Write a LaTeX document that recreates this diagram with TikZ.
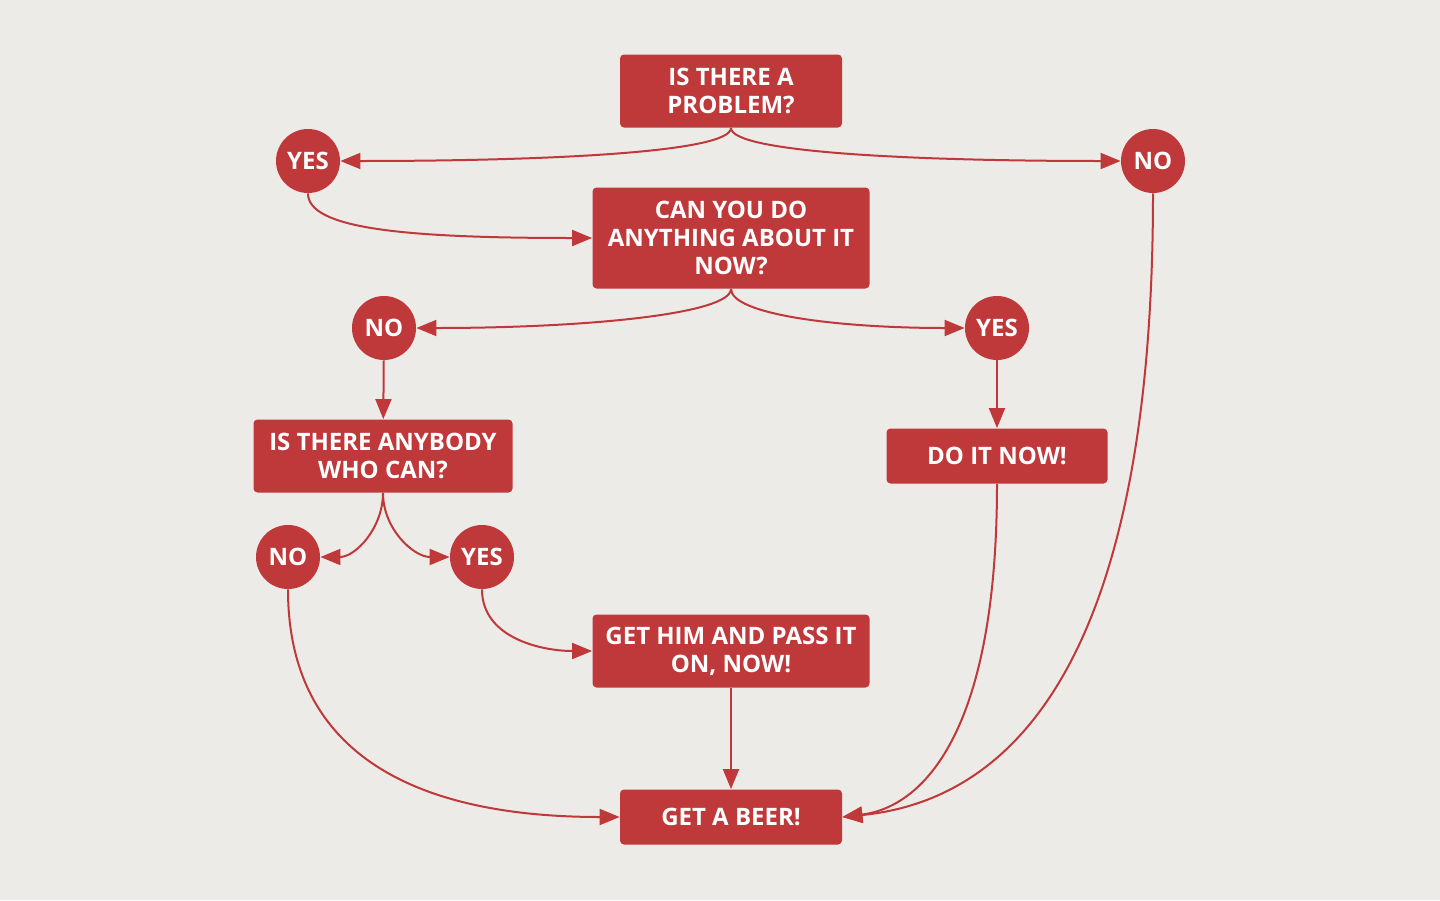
\documentclass[tikz,border=0pt]{standalone}
\usepackage{fontspec}
\setmainfont{Open Sans}
\usetikzlibrary{arrows.meta,positioning}
\definecolor{beerred}{HTML}{BF383A}
\definecolor{paper}{HTML}{EDEBE8}

\begin{document}
\begin{tikzpicture}[x=0.5pt,y=-0.5pt,
  box/.style={fill=beerred, rounded corners=2pt, text=white, align=center, inner sep=0pt,
    font=\bfseries\fontsize{12}{14}\selectfont},
  ans/.style={circle, fill=beerred, text=white, minimum size=32pt, inner sep=0pt,
    font=\bfseries\fontsize{12}{14}\selectfont},
  arr/.style={draw=beerred, line width=1pt, -{Triangle[length=10pt,width=8pt]}}]
\fill[paper] (0,0) rectangle (1440,900);
\useasboundingbox (0,0) rectangle (1440,900);

% questions and actions
\node[box, minimum width=111pt, minimum height=36.5pt] (q1) at (731,91) {IS THERE A\\PROBLEM?};
\node[box, minimum width=138.5pt, minimum height=50.5pt] (q2) at (731,238) {CAN YOU DO\\ANYTHING ABOUT IT\\NOW?};
\node[box, minimum width=129.5pt, minimum height=36.5pt] (q3) at (383,456) {IS THERE ANYBODY\\WHO CAN?};
\node[box, minimum width=110.5pt, minimum height=27.5pt] (now) at (997,456) {DO IT NOW!};
\node[box, minimum width=138.5pt, minimum height=36.5pt] (pass) at (731,651) {GET HIM AND PASS IT\\ON, NOW!};
\node[box, minimum width=111pt, minimum height=27.5pt] (beer) at (731,817) {GET A BEER!};

% answers
\node[ans] (yes1) at (308,161) {YES};
\node[ans] (no1) at (1153,161) {NO};
\node[ans] (no2) at (384,328) {NO};
\node[ans] (yes2) at (997,328) {YES};
\node[ans] (no3) at (288,557) {NO};
\node[ans] (yes3) at (482,557) {YES};

% connectors
\draw[arr] (q1.south) .. controls +(0,25) and +(200,0) .. (yes1.east);
\draw[arr] (q1.south) .. controls +(0,25) and +(-200,0) .. (no1.west);
\draw[arr] (yes1.south) .. controls +(0,35) and +(-190,0) .. (q2.west);
\draw[arr] (q2.south) .. controls +(0,25) and +(170,0) .. (no2.east);
\draw[arr] (q2.south) .. controls +(0,25) and +(-130,0) .. (yes2.west);
\draw[arr] (no2) -- (q3);
\draw[arr] (yes2) -- (now);
\draw[arr] (q3.south) to[out=-90, in=0] (no3.east);
\draw[arr] (q3.south) to[out=-90, in=180] (yes3.west);
\draw[arr] (yes3.south) to[out=-90, in=180] (pass.west);
\draw[arr] (pass) -- (beer);
\draw[arr] (no3.south) .. controls +(0,180) and +(-180,0) .. (beer.west);
\draw[arr] (now.south) .. controls +(0,250) and +(80,-10) .. (beer.east);
\draw[arr] (no1.south) .. controls +(0,500) and +(150,-15) .. (beer.east);
\end{tikzpicture}
\end{document}
